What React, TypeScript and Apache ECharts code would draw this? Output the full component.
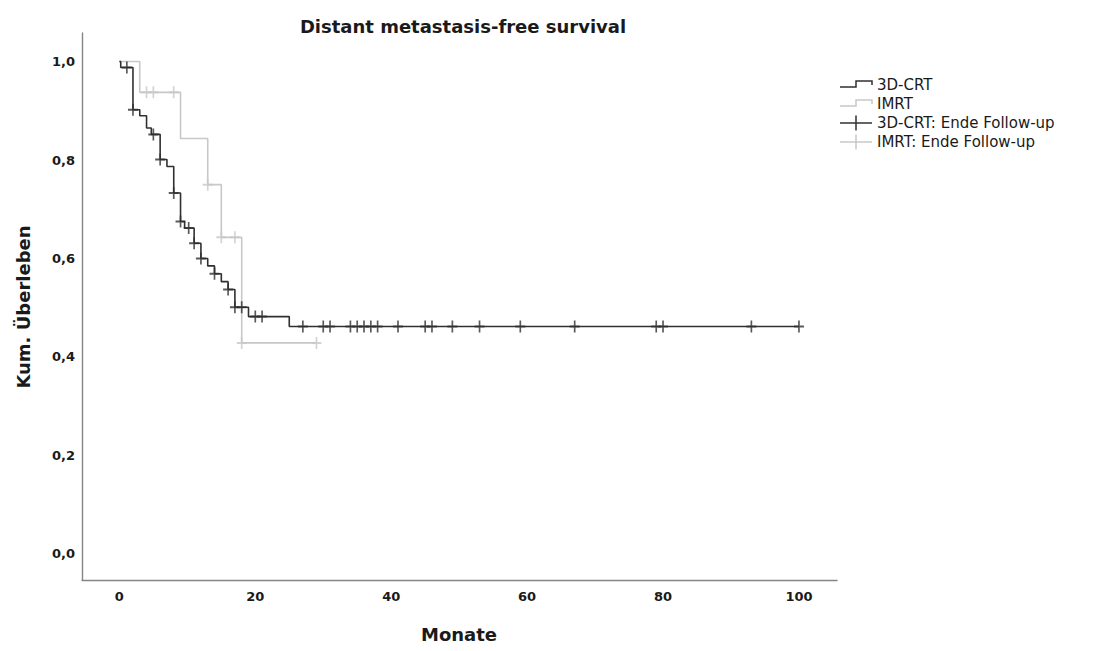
import React, { useEffect, useRef } from "react";
import * as echarts from "echarts";

// 3D-CRT Kaplan-Meier steps (time in months, survival after event)
const crtEventTimes = [0, 0.2, 2, 3, 4, 4.7, 6, 7, 8, 9, 9.6, 11, 12, 13, 14, 15, 16, 17, 19, 25, 100];
const crtSurvival = [1.0, 0.988, 0.902, 0.89, 0.865, 0.852, 0.801, 0.787, 0.733, 0.675, 0.662, 0.631, 0.6, 0.585, 0.569, 0.553, 0.537, 0.501, 0.482, 0.462, 0.462];
const crtCensorTimes = [1.1, 2, 5, 6, 8, 9, 10.2, 11, 12, 14, 16, 17, 18, 20, 21, 27, 30, 31, 34, 35, 36, 37, 38, 41, 45, 46, 49, 53, 59, 67, 79, 80, 93, 100];

// IMRT Kaplan-Meier steps
const imrtEventTimes = [0, 3, 9, 13, 15, 18, 29];
const imrtSurvival = [1.0, 0.9375, 0.84375, 0.75, 0.6429, 0.4286, 0.4286];
const imrtCensorTimes = [4, 5, 8, 13, 15, 17, 18, 29];

const xTicks = [0, 20, 40, 60, 80, 100];
const yTicks = [0, 0.2, 0.4, 0.6, 0.8, 1.0];

const legendLabels = ["3D-CRT", "IMRT", "3D-CRT: Ende Follow-up", "IMRT: Ende Follow-up"];

const BLACK = "#303030";
const GRAY = "#c8c8c8";
const FONT = "DejaVu Sans";
const CROSS = "path://M5,0H7V5H12V7H7V12H5V7H0V5H5Z";

function levelAt(times: number[], surv: number[], t: number) {
  let s = surv[0];
  for (let i = 0; i < times.length; i++) {
    if (times[i] <= t) s = surv[i];
  }
  return s;
}

export default function App() {
  const ref = useRef<HTMLDivElement>(null);
  useEffect(() => {
    if (!ref.current) return;
    const chart = echarts.init(ref.current, null, { renderer: "svg" });

    const crtLine = crtEventTimes.map((t, i) => [t, crtSurvival[i]]);
    const imrtLine = imrtEventTimes.map((t, i) => [t, imrtSurvival[i]]);
    const crtCens = crtCensorTimes.map((t) => [t, levelAt(crtEventTimes, crtSurvival, t)]);
    const imrtCens = imrtCensorTimes.map((t) => [t, levelAt(imrtEventTimes, imrtSurvival, t)]);

    const legendY = [85, 104, 123, 142];
    const lx0 = 840;
    const lx1 = 872;
    const lmid = 856;
    const graphics: any[] = [];
    [BLACK, GRAY].forEach((c, i) => {
      const y = legendY[i];
      graphics.push({
        type: "polyline",
        shape: { points: [[lx0, y + 2], [lmid, y + 2], [lmid, y - 4], [lx1, y - 4], [lx1, y]] },
        style: { stroke: c, lineWidth: 1.5, fill: null },
      });
    });
    [BLACK, GRAY].forEach((c, i) => {
      const y = legendY[i + 2];
      graphics.push({ type: "line", shape: { x1: lx0, y1: y, x2: lx1, y2: y }, style: { stroke: c, lineWidth: 1.5 } });
      graphics.push({ type: "line", shape: { x1: lmid, y1: y - 7.5, x2: lmid, y2: y + 7.5 }, style: { stroke: c, lineWidth: 1.5 } });
    });
    legendLabels.forEach((lab, i) => {
      graphics.push({
        type: "text",
        x: 877,
        y: legendY[i],
        style: { text: lab, fontFamily: FONT, fontSize: 15, fill: "#1a1a1a", textAlign: "left", textVerticalAlign: "middle" },
      });
    });
    graphics.push({
      type: "text",
      x: 459,
      y: 634,
      style: { text: "Monate", fontFamily: FONT, fontSize: 18, fontWeight: "bold", fill: "#1a1a1a", textAlign: "center", textVerticalAlign: "middle" },
    });
    graphics.push({
      type: "text",
      x: 23,
      y: 307,
      rotation: Math.PI / 2,
      style: { text: "Kum. Überleben", fontFamily: FONT, fontSize: 18, fontWeight: "bold", fill: "#1a1a1a", textAlign: "center", textVerticalAlign: "middle" },
    });

    chart.setOption({
      animation: false,
      title: {
        text: "Distant metastasis-free survival",
        left: 458,
        top: 12,
        textAlign: "center",
        textStyle: { fontFamily: FONT, fontSize: 18, fontWeight: "bold", color: "#1a1a1a" },
      },
      grid: { left: 82, top: 33, right: 258, bottom: 71, containLabel: false },
      xAxis: {
        type: "value",
        min: -5.5,
        max: 105.6,
        splitLine: { show: false },
        axisTick: { show: false },
        axisLine: { show: true, onZero: false, lineStyle: { color: "#858585", width: 1.4 } },
        axisLabel: {
          customValues: xTicks,
          margin: 10,
          fontFamily: FONT,
          fontSize: 13,
          fontWeight: "bold",
          color: "#1a1a1a",
          formatter: (v: number) => String(v),
        },
      },
      yAxis: {
        type: "value",
        min: -0.053,
        max: 1.058,
        splitLine: { show: false },
        axisTick: { show: false },
        axisLine: { show: true, onZero: false, lineStyle: { color: "#858585", width: 1.4 } },
        axisLabel: {
          customValues: yTicks,
          margin: 7,
          fontFamily: FONT,
          fontSize: 13,
          fontWeight: "bold",
          color: "#1a1a1a",
          formatter: (v: number) => v.toFixed(1).replace(".", ","),
        },
      },
      series: [
        {
          name: "IMRT",
          type: "line",
          step: "end",
          data: imrtLine,
          showSymbol: false,
          silent: true,
          lineStyle: { color: GRAY, width: 1.6 },
          z: 2,
        },
        {
          name: "IMRT: Ende Follow-up",
          type: "scatter",
          data: imrtCens,
          symbol: CROSS,
          symbolSize: [10, 12],
          silent: true,
          itemStyle: { color: GRAY },
          z: 3,
        },
        {
          name: "3D-CRT",
          type: "line",
          step: "end",
          data: crtLine,
          showSymbol: false,
          silent: true,
          lineStyle: { color: BLACK, width: 1.6 },
          z: 4,
        },
        {
          name: "3D-CRT: Ende Follow-up",
          type: "scatter",
          data: crtCens,
          symbol: CROSS,
          symbolSize: [10, 12],
          silent: true,
          itemStyle: { color: BLACK },
          z: 5,
        },
      ],
      graphic: graphics,
    });
    return () => chart.dispose();
  }, []);
  return <div ref={ref} style={{ position: "absolute", left: 0, top: 0, width: 1095, height: 651 }} />;
}
